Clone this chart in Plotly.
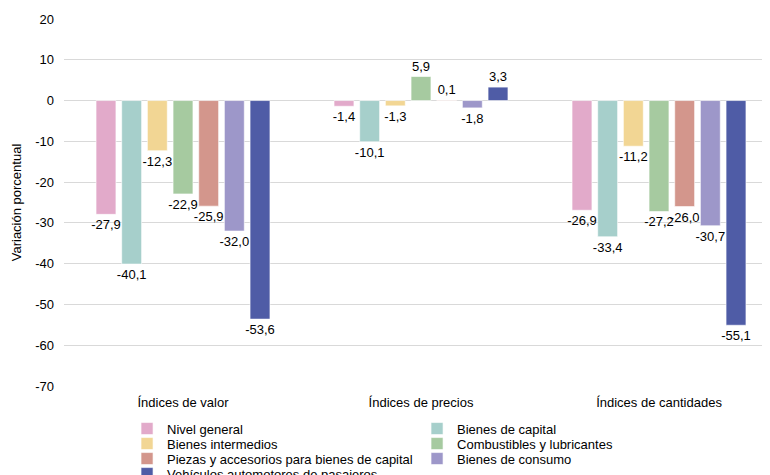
import plotly.graph_objects as go

categories = ["Índices de valor", "Índices de precios", "Índices de cantidades"]
series_names = [
    "Nivel general",
    "Bienes de capital",
    "Bienes intermedios",
    "Combustibles y lubricantes",
    "Piezas y accesorios para bienes de capital",
    "Bienes de consumo",
    "Vehículos automotores de pasajeros",
]
nivel_general = [-27.9, -1.4, -26.9]
bienes_capital = [-40.1, -10.1, -33.4]
bienes_intermedios = [-12.3, -1.3, -11.2]
combustibles = [-22.9, 5.9, -27.2]
piezas = [-25.9, 0.1, -26.0]
bienes_consumo = [-32.0, -1.8, -30.7]
vehiculos = [-53.6, 3.3, -55.1]
series_values = [nivel_general, bienes_capital, bienes_intermedios, combustibles,
                 piezas, bienes_consumo, vehiculos]
colors = ["#E2AACA", "#A6CFCB", "#F2D694", "#A6CAA0", "#D3968C", "#9D97C9", "#4F5CA6"]
y_ticks = [20, 10, 0, -10, -20, -30, -40, -50, -60, -70]

legend_ids = ["legend", "legend2", "legend3", "legend4"]

fig = go.Figure()
for i, (name, vals, c) in enumerate(zip(series_names, series_values, colors)):
    fig.add_trace(go.Bar(
        x=categories, y=vals, name=name,
        legend=legend_ids[i // 2],
        marker=dict(color=c, line=dict(color="rgba(255,255,255,0.6)", width=1)),
        text=[f"{v:.1f}".replace(".", ",") for v in vals],
        textposition="outside", constraintext="none",
        textfont=dict(size=13, color="#000000"),
        cliponaxis=False,
    ))

legend_common = dict(orientation="h", x=0.0883, xref="paper", yref="container",
                     xanchor="left", yanchor="top",
                     entrywidth=245, entrywidthmode="pixels",
                     font=dict(size=13), tracegroupgap=0, itemwidth=30,
                     bgcolor="rgba(0,0,0,0)")
legend_y = [0.1461, 0.1145, 0.0829, 0.0513]

fig.update_layout(
    width=770, height=475,
    margin=dict(l=56, r=0, t=11, b=97),
    paper_bgcolor="white", plot_bgcolor="white",
    font=dict(family="Liberation Sans, Arial, sans-serif", size=13, color="#000000"),
    barmode="group", bargap=0.245, bargroupgap=0.225,
    showlegend=True,
    legend=dict(legend_common, y=legend_y[0]),
    legend2=dict(legend_common, y=legend_y[1]),
    legend3=dict(legend_common, y=legend_y[2]),
    legend4=dict(legend_common, y=legend_y[3]),
)
fig.update_xaxes(showgrid=False, showline=False, ticks="", tickfont=dict(size=13),
                 ticklabelstandoff=7)
fig.update_yaxes(range=[-70, 20], tickvals=y_ticks, ticktext=[str(t) for t in y_ticks],
                 showgrid=True, gridcolor="#D9D9D9", gridwidth=1,
                 zeroline=True, zerolinecolor="#D9D9D9", zerolinewidth=1,
                 tickfont=dict(size=13), ticklabelstandoff=9,
                 title=dict(text="Variación porcentual", font=dict(size=13), standoff=10))

fig.write_html("out.html")
